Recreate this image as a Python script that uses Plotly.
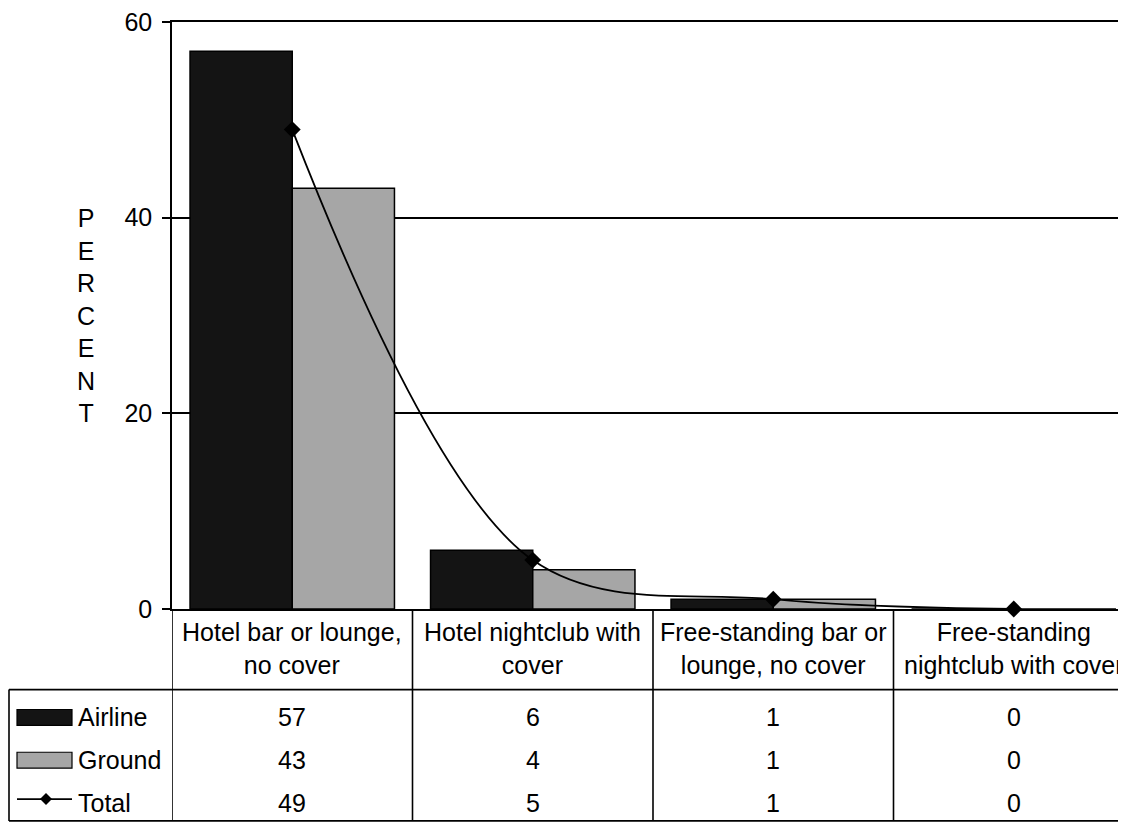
import plotly.graph_objects as go

categories = ["Hotel bar or lounge,<br>no cover", "Hotel nightclub with<br>cover",
              "Free-standing bar or<br>lounge, no cover", "Free-standing<br>nightclub with cover"]
airline = [57, 6, 1, 0]
ground = [43, 4, 1, 0]
total = [49, 5, 1, 0]
series_names = ["Airline", "Ground", "Total"]
y_ticks = [0, 20, 40, 60]
y_title = "PERCENT"

# page body has an 8px margin; work in window pixels and convert
OFF = 8
W, H = 1126, 823
L, T = 172 - OFF, 19 - OFF
BOT = 609 - OFF
B = H - BOT
FONT = "Liberation Sans, Arial, sans-serif"
FS = 25
LW = 1.6


def py(p):
    return (BOT - (p - OFF)) / (BOT - T)


def px(p):
    return (p - OFF - L) / (W - L)


xs = list(range(len(categories)))
fig = go.Figure()
fig.add_trace(go.Bar(x=xs, y=airline, name="Airline", marker=dict(color="#141414", line=dict(color="black", width=1.5))))
fig.add_trace(go.Bar(x=xs, y=ground, name="Ground", marker=dict(color="#a6a6a6", line=dict(color="black", width=1.5))))
fig.add_trace(go.Scatter(x=xs, y=total, name="Total", mode="lines+markers",
                         line=dict(color="black", width=1.8, shape="spline", smoothing=1),
                         marker=dict(symbol="diamond", size=13, color="black"), cliponaxis=False))

shapes = []
line = dict(color="black", width=LW)
for yp in (690, 822):
    shapes.append(dict(type="line", xref="paper", yref="paper", x0=px(9), x1=1.05, y0=py(yp), y1=py(yp), line=line))
shapes.append(dict(type="line", xref="paper", yref="paper", x0=px(9), x1=px(9), y0=py(690), y1=py(822), line=line))
for i in range(len(categories)):
    shapes.append(dict(type="line", xref="x", yref="paper", x0=i - 0.5, x1=i - 0.5, y0=0, y1=py(822), line=line))

annotations = []
for i, c in enumerate(categories):
    annotations.append(dict(x=i, y=py(649), xref="x", yref="paper", text=c, showarrow=False,
                            font=dict(family=FONT, size=FS, color="black"), xanchor="center", yanchor="middle"))
rows_y = [718, 761, 804]
for vals, ry in zip([airline, ground, total], rows_y):
    for i, v in enumerate(vals):
        annotations.append(dict(x=i, y=py(ry), xref="x", yref="paper", text=str(v), showarrow=False,
                                font=dict(family=FONT, size=FS, color="black"), xanchor="center", yanchor="middle"))
for name, ry in zip(series_names, rows_y):
    annotations.append(dict(x=px(76), y=py(ry), xref="paper", yref="paper", text=name, showarrow=False,
                            font=dict(family=FONT, size=FS, color="black"), xanchor="left", yanchor="middle"))
shapes.append(dict(type="rect", xref="paper", yref="paper", x0=px(17), x1=px(72), y0=py(710), y1=py(726),
                   fillcolor="#141414", line=dict(color="black", width=1.2)))
shapes.append(dict(type="rect", xref="paper", yref="paper", x0=px(17), x1=px(72), y0=py(753), y1=py(769),
                   fillcolor="#a6a6a6", line=dict(color="black", width=1.2)))
shapes.append(dict(type="line", xref="paper", yref="paper", x0=px(17), x1=px(72), y0=py(800), y1=py(800),
                   line=dict(color="black", width=1.8)))
cx, cy, d = 46, 800, 6
shapes.append(dict(type="path", xref="paper", yref="paper",
                   path=f"M {px(cx-d)} {py(cy)} L {px(cx)} {py(cy-d)} L {px(cx+d)} {py(cy)} L {px(cx)} {py(cy+d)} Z",
                   fillcolor="black", line=dict(color="black", width=0)))

annotations.append(dict(x=px(86), y=py(314), xref="paper", yref="paper", text="<br>".join(y_title), showarrow=False,
                        font=dict(family=FONT, size=25, color="black"), xanchor="center", yanchor="middle"))

fig.update_layout(
    width=W, height=H, margin=dict(l=L, r=0, t=T, b=B, pad=0),
    paper_bgcolor="white", plot_bgcolor="white",
    barmode="group", bargap=0.15, bargroupgap=0,
    showlegend=False, shapes=shapes, annotations=annotations,
    font=dict(family=FONT, size=FS, color="black"),
    xaxis=dict(range=[-0.5, 3.5], showticklabels=False, ticks="", showgrid=False,
               showline=True, mirror=True, linecolor="black", linewidth=LW, zeroline=False, fixedrange=True),
    yaxis=dict(range=[0, 60], tickvals=y_ticks, ticks="outside", ticklen=8, tickwidth=LW, tickcolor="black",
               ticklabelstandoff=5, ticklabeloverflow="allow",
               showgrid=True, gridcolor="black", gridwidth=LW, showline=True, linecolor="black", linewidth=LW,
               zeroline=False, tickfont=dict(family=FONT, size=FS, color="black")),
)
fig.write_html("out.html")
